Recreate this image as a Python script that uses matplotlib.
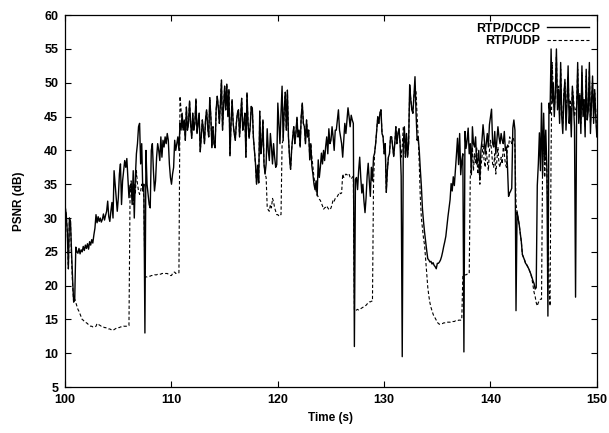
import numpy as np
import matplotlib
matplotlib.use("Agg")
import matplotlib.pyplot as plt

plt.rcParams['font.family'] = ['Liberation Sans', 'DejaVu Sans']
plt.rcParams['font.weight'] = 'bold'

# PSNR, vzorek každých 0.1 s (jeden řádek = jedna sekunda)
dccp_psnr = [
    31.7, 30.5, 28.0, 22.5, 30.0, 29.5, 25.0, 21.0, 17.6, 18.0,  # 100
    25.7, 25.0, 24.8, 25.5, 24.7, 25.3, 25.0, 25.8, 25.2, 26.0,
    25.5, 26.2, 25.4, 26.5, 26.0, 26.8, 26.3, 27.5, 28.5, 30.5,
    29.3, 30.2, 29.5, 30.0, 29.4, 29.8, 30.6, 29.7, 30.4, 31.0,
    32.5, 30.2, 29.5, 31.0, 32.3, 30.0, 37.0, 35.0, 33.0, 31.0,
    33.0, 36.5, 38.0, 32.0, 35.5, 37.0, 38.5, 37.5, 38.8, 36.0,  # 105
    33.0, 34.8, 35.0, 32.0, 37.0, 30.0, 36.0, 39.5, 41.0, 43.5,
    44.0, 38.0, 41.0, 34.0, 35.0, 13.0, 40.0, 35.0, 33.5, 32.0,
    31.5, 40.0, 41.0, 37.0, 34.0, 35.5, 39.0, 41.0, 40.0, 38.5,
    42.0, 39.0, 41.5, 40.5, 42.0, 41.0, 42.5, 41.5, 38.0, 36.0,
    35.0, 36.5, 37.5, 41.5, 40.0, 41.0, 42.0, 40.0, 44.0, 43.0,  # 110
    45.5, 43.0, 44.5, 41.5, 46.4, 43.0, 44.0, 47.3, 44.0, 41.8,
    45.5, 43.0, 44.0, 47.6, 42.5, 44.0, 45.5, 39.8, 42.0, 44.5,
    43.0, 41.0, 44.5, 46.0, 43.5, 42.0, 47.8, 45.0, 40.4, 43.5,
    41.0, 40.4, 46.0, 48.0, 46.5, 44.0, 47.0, 50.4, 43.0, 46.5,
    49.5, 46.0, 49.8, 45.0, 49.0, 39.2, 44.0, 47.5, 44.0, 42.5,  # 115
    41.5, 44.0, 45.5, 46.0, 42.0, 45.0, 47.7, 43.0, 44.0, 45.5,
    39.0, 48.5, 44.0, 41.8, 43.5, 46.5, 46.3, 42.0, 40.0, 38.0,
    35.0, 37.8, 35.2, 45.8, 39.5, 41.0, 44.5, 38.0, 36.5, 38.0,
    43.2, 40.0, 38.5, 42.5, 40.5, 38.0, 41.0, 39.0, 37.5, 37.9,
    47.0, 44.0, 41.0, 45.5, 49.5, 41.5, 46.0, 48.6, 43.0, 48.9,  # 120
    42.0, 39.0, 37.2, 40.1, 42.0, 43.5, 41.0, 42.5, 44.9, 42.0,
    43.0, 40.5, 45.0, 47.0, 44.0, 43.5, 41.0, 44.5, 42.0, 43.0,
    38.6, 41.0, 37.7, 36.5, 35.0, 34.2, 35.5, 33.3, 38.6, 36.0,
    37.5, 39.6, 38.0, 40.0, 38.5, 40.6, 42.0, 39.5, 43.2, 41.0,
    41.5, 43.5, 42.0, 40.0, 43.0, 43.0, 44.5, 46.0, 43.0, 42.0,  # 125
    41.0, 39.0, 41.5, 44.0, 42.5, 44.5, 46.3, 45.0, 43.5, 45.2,
    44.5, 44.0, 11.0, 35.7, 36.0, 34.2, 37.0, 39.0, 36.0, 33.7,
    35.0, 32.5, 30.8, 33.0, 36.2, 38.1, 35.5, 33.2, 37.5, 35.5,
    39.0, 39.6, 41.0, 43.0, 45.0, 44.0, 45.5, 46.0, 42.5, 42.0,
    39.5, 41.0, 33.8, 37.0, 39.0, 39.5, 42.0, 42.0, 40.5, 39.1,  # 130
    41.0, 43.5, 41.0, 42.5, 43.2, 41.0, 36.2, 9.5, 41.0, 43.5,
    39.0, 42.5, 39.0, 41.0, 49.7, 47.6, 46.0, 45.5, 48.0, 50.9,
    45.5, 41.5, 42.0, 40.0, 37.2, 34.7, 31.4, 29.5, 27.9, 26.5,
    25.2, 24.0, 23.8, 23.5, 23.6, 23.2, 23.4, 23.0, 22.8, 22.5,
    23.3, 23.3, 23.5, 23.8, 24.3, 25.0, 25.8, 26.5, 27.3, 28.8,  # 135
    30.2, 31.5, 32.7, 35.1, 34.0, 36.1, 34.8, 37.0, 39.4, 41.8,
    37.9, 42.5, 36.4, 38.5, 39.5, 10.2, 42.8, 40.3, 41.5, 43.3,
    39.5, 41.0, 36.4, 43.5, 41.0, 40.5, 42.0, 38.0, 38.5, 40.0,
    35.7, 40.0, 41.5, 43.8, 42.0, 39.5, 41.0, 42.5, 40.5, 43.8,
    45.0, 46.1, 41.0, 40.5, 42.8, 39.5, 41.5, 43.5, 42.0, 41.0,  # 140
    42.5, 41.5, 41.0, 42.8, 40.0, 40.5, 37.5, 33.2, 33.7, 34.0,
    34.4, 43.3, 44.5, 43.0, 16.3, 30.9, 30.0, 29.0, 27.8, 26.5,
    24.6, 24.2, 23.8, 23.3, 23.1, 22.8, 22.5, 22.1, 21.7, 21.2,
    20.7, 20.3, 19.5, 19.7, 34.8, 38.0, 42.6, 37.0, 47.0, 36.3,
    45.5, 38.5, 43.0, 37.5, 15.5, 47.0, 45.5, 55.0, 47.0, 50.0,  # 145
    45.0, 48.5, 55.0, 46.0, 49.0, 44.0, 53.0, 45.0, 42.5, 48.0,
    50.5, 43.0, 47.0, 52.5, 44.0, 46.5, 42.0, 49.5, 47.0, 43.5,
    18.3, 46.0, 53.0, 44.0, 48.0, 42.5, 52.5, 45.0, 47.5, 42.0,
    52.0, 44.5, 46.0, 53.0, 42.5, 47.0, 51.0, 44.0, 49.0, 45.0,
    42.0,  # 150
]

udp_psnr = [
    31.7, 30.5, 28.0, 22.5, 30.0, 29.5, 24.0, 20.0, 17.5, 18.0,  # 100
    17.5, 17.0, 16.5, 16.2, 15.8, 15.4, 15.0, 14.9, 14.7, 14.6,
    14.5, 14.4, 14.2, 14.1, 14.0, 14.0, 13.9, 13.9, 13.9, 14.0,
    14.4, 14.3, 14.2, 14.1, 14.0, 14.0, 13.9, 13.8, 13.8, 13.7,
    13.7, 13.6, 13.6, 13.5, 13.5, 13.4, 13.5, 13.6, 13.7, 13.8,
    13.8, 13.8, 13.9, 13.9, 13.9, 14.0, 14.0, 14.0, 14.0, 14.1,  # 105
    14.1, 33.0, 35.5, 34.0, 32.0, 35.0, 33.5, 37.0, 35.0, 34.0,
    33.5, 34.0, 35.0, 34.6, 33.0, 21.2, 21.3, 21.3, 21.4, 21.4,
    21.4, 21.5, 21.5, 21.5, 21.6, 21.6, 21.6, 21.7, 21.7, 21.7,
    21.7, 21.8, 21.8, 21.8, 21.8, 21.8, 21.8, 21.7, 21.6, 21.5,
    21.5, 21.8, 22.0, 22.0, 21.8, 21.9, 21.9, 21.9, 48.0, 46.0,  # 110
    44.0, 43.0, 44.5, 41.5, 46.4, 43.0, 44.0, 47.3, 44.0, 41.8,
    45.5, 43.0, 44.0, 47.6, 42.5, 44.0, 45.5, 39.8, 42.0, 44.5,
    43.0, 41.0, 44.5, 46.0, 43.5, 42.0, 47.8, 45.0, 40.4, 43.5,
    41.0, 40.4, 46.0, 48.0, 46.5, 44.0, 47.0, 50.4, 43.0, 46.5,
    49.5, 46.0, 49.8, 45.0, 49.0, 39.2, 44.0, 47.5, 44.0, 42.5,  # 115
    41.5, 44.0, 45.5, 46.0, 42.0, 45.0, 47.7, 43.0, 44.0, 45.5,
    39.0, 48.5, 44.0, 41.8, 43.5, 46.5, 46.3, 42.0, 40.0, 38.0,
    35.0, 37.8, 35.2, 45.8, 39.5, 41.0, 44.5, 38.0, 36.5, 36.0,
    31.7, 31.2, 31.0, 32.0, 31.5, 32.9, 32.4, 31.5, 31.0, 30.5,
    30.5, 30.3, 30.5, 30.5, 41.0, 41.5, 46.0, 48.6, 43.0, 48.9,  # 120
    42.0, 39.0, 37.2, 40.1, 42.0, 43.5, 41.0, 42.5, 44.9, 42.0,
    43.0, 40.5, 45.0, 47.0, 44.0, 43.5, 41.0, 44.5, 42.0, 43.0,
    38.6, 41.0, 39.0, 37.6, 36.0, 35.0, 34.0, 33.5, 33.1, 32.8,
    32.6, 32.2, 31.8, 31.3, 31.5, 31.6, 31.8, 31.5, 31.3, 31.2,
    31.5, 32.0, 32.7, 32.5, 32.9, 33.0, 33.2, 33.5, 33.8, 33.6,  # 125
    33.7, 36.5, 36.0, 36.2, 36.5, 36.4, 36.3, 36.5, 36.0, 35.8,
    36.0, 36.2, 16.4, 16.3, 16.4, 16.5, 16.4, 16.5, 16.6, 16.7,
    16.8, 16.9, 17.0, 17.1, 17.3, 17.4, 17.6, 17.6, 17.7, 17.7,
    35.2, 39.6, 41.0, 43.0, 45.0, 44.0, 45.5, 46.0, 42.5, 42.0,
    39.5, 41.0, 33.8, 37.0, 39.0, 39.5, 42.0, 42.0, 40.5, 39.1,  # 130
    41.0, 43.5, 41.0, 42.5, 43.2, 41.0, 39.0, 40.5, 43.5, 43.0,
    39.0, 42.5, 39.0, 41.0, 49.0, 47.6, 46.0, 45.5, 48.0, 49.5,
    48.6, 45.0, 42.0, 38.0, 33.0, 30.0, 28.5, 27.0, 26.0, 24.0,
    22.1, 19.8, 18.5, 17.5, 16.8, 16.3, 15.8, 15.4, 15.2, 14.9,
    14.6, 14.4, 14.3, 14.3, 14.4, 14.4, 14.5, 14.5, 14.5, 14.6,  # 135
    14.6, 14.6, 14.6, 14.7, 14.7, 14.7, 14.7, 14.8, 14.8, 14.8,
    14.9, 14.9, 14.9, 15.0, 21.5, 21.5, 21.6, 21.6, 21.7, 21.8,
    21.8, 36.1, 38.0, 40.5, 37.0, 39.5, 38.0, 40.5, 36.5, 38.0,
    35.0, 37.5, 39.0, 41.0, 38.5, 37.5, 40.0, 38.5, 37.0, 40.0,
    41.5, 40.0, 38.0, 37.5, 39.5, 36.5, 38.5, 40.5, 38.0, 37.5,  # 140
    39.0, 38.0, 40.5, 39.5, 38.0, 37.5, 41.0, 40.5, 42.0, 41.5,
    41.0, 42.0, 41.5, 40.5, 32.0, 30.9, 30.0, 29.0, 27.8, 26.5,
    24.6, 24.2, 23.8, 23.3, 23.1, 22.8, 22.5, 22.1, 21.7, 21.0,
    20.0, 19.0, 18.4, 17.5, 17.0, 17.5, 17.8, 18.0, 18.0, 38.0,
    42.0, 36.0, 40.0, 37.0, 30.0, 20.0, 17.0, 40.0, 53.0, 49.0,  # 145
    46.0, 48.5, 54.0, 47.0, 49.5, 45.0, 52.0, 46.0, 44.0, 48.5,
    50.0, 45.0, 48.0, 51.0, 46.0, 47.5, 44.5, 49.0, 48.0, 45.0,
    46.0, 46.5, 52.0, 45.5, 48.5, 44.0, 51.5, 46.0, 47.5, 43.5,
    51.0, 45.0, 46.5, 52.0, 44.0, 47.5, 50.0, 45.5, 48.5, 46.0,
    42.0,  # 150
]

t_dccp = np.linspace(100, 150, len(dccp_psnr))
t_udp = np.linspace(100, 150, len(udp_psnr))

fig = plt.figure(figsize=(6.09, 4.33), dpi=100)
ax = fig.add_axes([0.107, 0.106, 0.873, 0.859])

ax.plot(t_dccp, dccp_psnr, color='black', lw=1.0, label='RTP/DCCP')
ax.plot(t_udp, udp_psnr, color='black', lw=0.8, ls=(0, (3, 2)), label='RTP/UDP')

ax.set_xlim(100, 150)
ax.set_ylim(5, 60)
ax.set_xticks(range(100, 151, 10))
ax.set_yticks(range(5, 61, 5))
ax.tick_params(direction='in', top=True, right=True, length=4, width=0.8, labelsize=9)
ax.tick_params(axis='x', pad=5)
ax.tick_params(axis='y', pad=5)
for s in ax.spines.values():
    s.set_linewidth(0.9)
ax.set_xlabel('Time (s)', fontsize=8.5, fontweight='bold', labelpad=4)
ax.set_ylabel('PSNR (dB)', fontsize=8.5, fontweight='bold', labelpad=14)

ax.legend(loc='upper right', frameon=False, markerfirst=False, fontsize=9,
          handlelength=3.4, labelspacing=0.05, borderaxespad=0.2, handletextpad=0.5)

fig.savefig('out.png', dpi=100)
